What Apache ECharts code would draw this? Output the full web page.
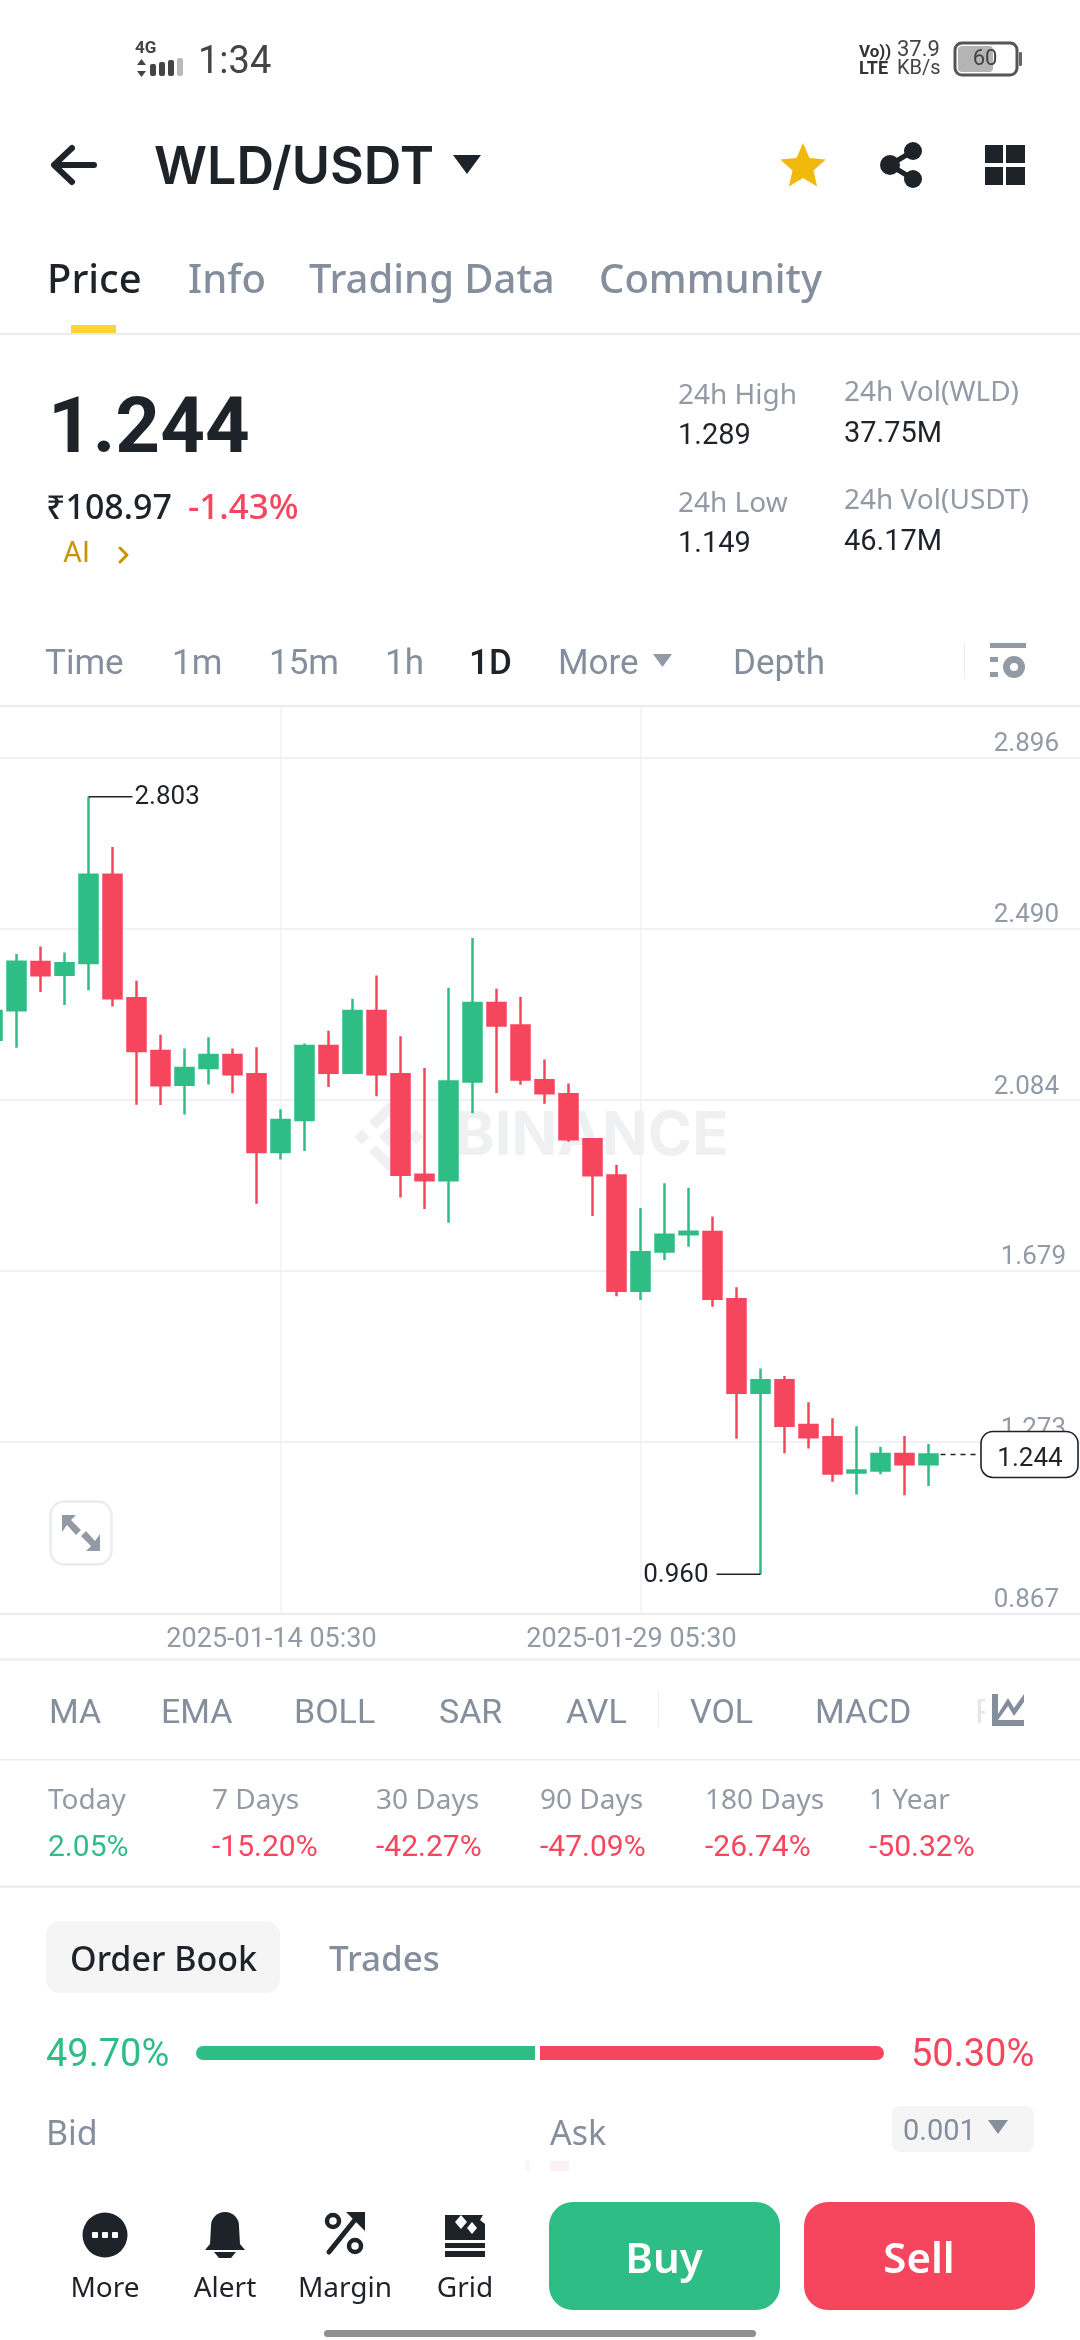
<!DOCTYPE html>
<html><head><meta charset="utf-8">
<style>html,body{margin:0;padding:0;background:#fff}#c{width:1080px;height:2340px}</style>
<script src="https://cdn.jsdelivr.net/npm/echarts@6/dist/echarts.min.js"></script>
</head><body><div id="c"></div>
<script>
const categories=["2025-01-02","2025-01-03","2025-01-04","2025-01-05","2025-01-06","2025-01-07","2025-01-08","2025-01-09","2025-01-10","2025-01-11","2025-01-12","2025-01-13","2025-01-14","2025-01-15","2025-01-16","2025-01-17","2025-01-18","2025-01-19","2025-01-20","2025-01-21","2025-01-22","2025-01-23","2025-01-24","2025-01-25","2025-01-26","2025-01-27","2025-01-28","2025-01-29","2025-01-30","2025-01-31","2025-02-01","2025-02-02","2025-02-03","2025-02-04","2025-02-05","2025-02-06","2025-02-07","2025-02-08","2025-02-09","2025-02-10","2025-02-11","2025-02-12","2025-02-13","2025-02-14","2025-02-15","2025-02-16"];
const opens =[2.227,2.297,2.411,2.381,2.409,2.618,2.325,2.200,2.120,2.160,2.191,2.145,1.961,2.037,2.212,2.149,2.295,2.145,1.907,1.894,2.128,2.314,2.261,2.131,2.098,1.991,1.905,1.632,1.725,1.766,1.771,1.612,1.390,1.420,1.314,1.285,1.201,1.206,1.245,1.221];
const closes=[2.295,2.412,2.380,2.408,2.618,2.325,2.200,2.119,2.160,2.191,2.145,1.961,2.037,2.212,2.149,2.295,2.145,1.907,1.894,2.128,2.314,2.261,2.133,2.100,1.991,1.906,1.632,1.723,1.765,1.772,1.613,1.390,1.420,1.312,1.285,1.199,1.206,1.245,1.221,1.244];
const lows  =[2.208,2.208,2.340,2.309,2.344,2.306,2.073,2.072,2.050,2.121,2.100,1.838,1.943,1.963,2.115,2.149,2.093,1.853,1.826,1.793,2.053,2.101,2.120,2.075,1.985,1.809,1.619,1.610,1.705,1.736,1.594,1.281,0.960,1.247,1.258,1.179,1.149,1.197,1.147,1.169];
const highs =[2.314,2.430,2.448,2.434,2.803,2.684,2.367,2.239,2.206,2.233,2.206,2.209,2.062,2.218,2.248,2.324,2.379,2.235,2.160,2.350,2.468,2.348,2.328,2.180,2.123,1.991,1.930,1.828,1.887,1.876,1.808,1.640,1.448,1.430,1.368,1.330,1.311,1.262,1.288,1.269];
const priceTicks=[2.896,2.490,2.084,1.679,1.273,0.867];
const dateTicks=["2025-01-14","2025-01-29"];
const dateTime=" 05:30";
const highMark=[4,2.803];
const lowMark=[32,0.960];
const lastPrice=[39,1.244];
const tabs=["Price","Info","Trading Data","Community"];
const intervals=["Time","1m","15m","1h","1D","More","Depth"];
const indicators=["MA","EMA","BOLL","SAR","AVL","VOL","MACD"];
const periods=["Today","7 Days","30 Days","90 Days","180 Days","1 Year"];
const periodChanges=["2.05%","-15.20%","-42.27%","-47.09%","-26.74%","-50.32%"];
const navLabels=["More","Alert","Margin","Grid"];
const bidShare=49.70, askShare=50.30;

const GREEN="#2EBD85",RED="#F6465D",DARK="#1E2329",GRAY="#848E9C",LINE="#EAECEF";
const F="Roboto";
const els=[];
function T(text,x,y,size,fill,weight,align,fam){els.push({type:'text',z:10,silent:true,style:{text:text,x:x,y:y+3,fill:fill||DARK,font:(weight||400)+' '+size+'px "'+(fam||F)+'"',textAlign:align||'left',textVerticalAlign:'middle',align:align||'left',verticalAlign:'middle'}});}
function R(x,y,w,h,fill,r,stroke,lw){els.push({type:'rect',z:10,silent:true,shape:{x:x,y:y,width:w,height:h,r:r||0},style:{fill:fill||'none',stroke:stroke||null,lineWidth:lw||0}});}
function P(pts,fill){els.push({type:'polygon',z:10,silent:true,shape:{points:pts},style:{fill:fill}});}
function L(pts,stroke,lw){els.push({type:'polyline',z:10,silent:true,shape:{points:pts},style:{fill:'none',stroke:stroke,lineWidth:lw,lineCap:'round',lineJoin:'round'}});}
function C(x,y,r,fill){els.push({type:'circle',z:10,silent:true,shape:{cx:x,cy:y,r:r},style:{fill:fill}});}

// status bar
T("4G",135,46,17,"#444",700);
P([[137,65],[146,65],[141.5,59]],"#444");P([[137,71],[146,71],[141.5,77]],"#444");
R(150,64,6,12,"#444",2);R(159,62,6,14,"#444",2);R(168,60,6,16,"#444",2);R(177,58,6,18,"#bbb",2);
T("1:34",198,60,38,"#444",400);
T("Vo))",859,50,17,"#333",700);T("LTE",859,66,18,"#333",700);
T("37.9",897,47,22,"#444");T("KB/s",897,66,20,"#444");
R(955,43,62,32,"#fff",7,"#555",3);R(958,46,35,26,"#b4b4b4",4);R(1019,52,3,14,"#666",1);
T("60",985,56,22,"#444",400,'center');
// header
L([[94,165],[56,165]],DARK,6);L([[72,148],[54,165],[72,182]],DARK,6);
T("WLD/USDT",154,165,52,DARK,600,'left','Inter');
P([[453,155],[481,155],[467,174]],DARK);
(function(){const p=[];for(let i=0;i<10;i++){const a=-Math.PI/2+i*Math.PI/5,r=i%2?11:24;p.push([803+r*Math.cos(a),167+r*Math.sin(a)]);}P(p,"#F0B90B");})();
L([[913,151],[890,165],[913,179]],DARK,5);C(913,151,9,DARK);C(890,165,10,DARK);C(913,179,9,DARK);
R(985,145,18,18,DARK);R(1006,145,19,18,DARK);R(985,167,18,18,DARK);R(1006,167,19,18,DARK);
// tabs
const tabX=[47,188,309,599];
tabs.forEach((t,i)=>T(t,tabX[i],279,40,i?GRAY:DARK,500,'left','Noto Sans'));
R(71,325,45,8,"#FCD535");R(0,333,1080,2,LINE);
// price block
T("1.244",48,429,78,DARK,700);
T("₹108.97",46,506,34,DARK,500,'left','Noto Sans');T("-1.43%",188,506,35,RED,500,'left','Noto Sans');
T("AI",63,552,29,"#C99400");L([[120,548],[127,555],[120,562]],"#C99400",3);
const statLbl=["24h High","24h Low","24h Vol(WLD)","24h Vol(USDT)"],statVal=["1.289","1.149","37.75M","46.17M"];
const statX=[678,678,844,844],statYL=[393,501,390,498],statYV=[434,542,432,540];
statLbl.forEach((t,i)=>{T(t,statX[i],statYL[i],28,"#929AA5",400,'left','Noto Sans');T(statVal[i],statX[i],statYV[i],29,DARK,400);});
// interval bar
const intX=[45,172,269,385,469,558,733];
intervals.forEach((t,i)=>T(t,intX[i],662,35,i===4?DARK:GRAY,i===4?500:400));
P([[653,654],[672,654],[662.5,667]],"#929AA5");
R(964,643,1,36,LINE);
R(990,643,36,5,"#929AA5");R(990,657,8,5,"#929AA5");R(990,672,8,5,"#929AA5");
C(1014,667,11,"#929AA5");C(1014,667,4,"#fff");
R(0,705,1080,2,LINE);
// watermark
const wmC="#EFF0F1";const wmX=389,wmY=1137;
function wm(p){els.push({type:'polygon',z:0,silent:true,shape:{points:p.map(q=>[wmX+q[0],wmY+q[1]])},style:{fill:wmC}});}
wm([[0,-10],[10,0],[0,10],[-10,0]]);wm([[-27,-7.5],[-19.5,0],[-27,7.5],[-34.5,0]]);wm([[27,-7.5],[34.5,0],[27,7.5],[19.5,0]]);
wm([[0,-35],[20,-15],[13,-8],[0,-21],[-13,-8],[-20,-15]]);wm([[0,35],[-20,15],[-13,8],[0,21],[13,8],[20,15]]);
els.push({type:'text',z:0,silent:true,style:{text:"BINANCE",x:455,y:1137,fill:wmC,font:'700 60px "Inter"',textAlign:'left',textVerticalAlign:'middle',align:'left',verticalAlign:'middle'}});
// expand button
R(50.5,1501.5,61,63,"#fff",14,LINE,2.5);
P([[62,1515],[76,1515],[71,1520],[81,1530],[76,1535],[67,1525],[62,1532]],"#929AA5");
P([[100,1551],[86,1551],[91,1546],[81,1536],[86,1531],[95,1541],[100,1534]],"#929AA5");
// indicators
R(0,1658,1080,3,"#EEF0F2");
const indX=[49,161,294,439,566,690,815];
indicators.forEach((t,i)=>T(t,indX[i],1711,34,GRAY));
R(658,1691,1,36,LINE);T("R",975,1711,34,"#E4E6E9");
R(985,1685,50,50,"#fff");
R(992,1694,6,32,"#848E9C");R(992,1720,32,6,"#848E9C");P([[998,1714],[1008,1698],[1014,1708],[1024,1694],[1024,1702],[1014,1716],[1008,1706],[998,1720]],"#848E9C");
R(0,1759,1080,1.5,LINE);
const perX=[48,212,376,540,705,869];
periods.forEach((t,i)=>{T(t,perX[i],1798,28,"#929AA5",400,'left','Noto Sans');T(periodChanges[i],perX[i],1845,30,periodChanges[i][0]==='-'?RED:GREEN,400);});
R(0,1885,1080,3,"#EEF0F2");
// order book
R(46,1921,234,72,"#F5F5F5",14);
T("Order Book",70,1958,34,DARK,500,'left','Noto Sans');T("Trades",329,1958,35,GRAY,500,'left','Noto Sans');
T(bidShare.toFixed(2)+"%",46,2053,38,GREEN);T(askShare.toFixed(2)+"%",911,2053,38,RED);
R(196,2046,339,14,GREEN,[7,0,0,7]);R(540,2046,344,14,RED,[0,7,7,0]);
T("Bid",46,2132,34,GRAY,400,'left','Noto Sans');T("Ask",550,2132,34,GRAY,400,'left','Noto Sans');
R(892,2106,142,46,"#F5F5F5",8);T("0.001",903,2130,29,GRAY);P([[988,2120],[1008,2120],[998,2134]],"#848E9C");
R(525,2161,5,10,"#F2FBF7");R(550,2161,19,10,"#FEEFF1");
// bottom nav
const navX=[105,225,345,465];
navLabels.forEach((t,i)=>T(t,navX[i],2286,28,DARK,400,'center','Noto Sans'));
C(105,2235,22.5,DARK);R(92,2232,6,6,"#fff",1);R(102,2232,6,6,"#fff",1);R(112,2232,6,6,"#fff",1);
// bell
C(225,2226,14,DARK);P([[211,2226],[239,2226],[240,2244],[245,2250],[205,2250],[210,2244]],DARK);
P([[214,2252],[236,2252],[231,2258],[219,2258]],DARK);
// margin
L([[329,2252],[358,2216]],DARK,5);P([[346,2212],[365,2212],[365,2231]],DARK);
els.push({type:'circle',z:10,silent:true,shape:{cx:333,cy:2221,r:6},style:{fill:'#fff',stroke:DARK,lineWidth:4.5}});
els.push({type:'circle',z:10,silent:true,shape:{cx:355,cy:2246,r:6},style:{fill:'#fff',stroke:DARK,lineWidth:4.5}});
// grid
R(445,2215,40,25,DARK);
P([[461,2215],[467,2222],[461,2229],[455,2222]],"#fff");P([[472,2222],[477,2228],[472,2234],[467,2228]],"#fff");P([[483,2215],[485,2215],[485,2224],[480,2220]],"#fff");
R(445,2243,40,5,DARK);R(445,2251,40,6,DARK);
R(549,2202,231,108,GREEN,24);R(804,2202,231,108,RED,24);
T("Buy",664,2258,42,"#fff",600,'center','Noto Sans');T("Sell",919,2258,42,"#fff",600,'center','Noto Sans');
R(324,2330,432,7,"#8F8F8F",3.5);

const candle=opens.map((o,i)=>[o,closes[i],lows[i],highs[i]]);
const chart=echarts.init(document.getElementById('c'),null,{width:1080,height:2340});
function markItem(params,api){
 const kind=api.value(2),p=api.coord([api.value(0),api.value(1)]);
 const ink={stroke:DARK,lineWidth:1.6,fill:'none'};
 const txt=(t,x,y,al)=>({type:'text',style:{text:t,x:x,y:y,fill:DARK,font:'400 26px Roboto',align:al,verticalAlign:'middle'}});
 const v=api.value(1).toFixed(3);
 if(kind===0) return {type:'group',children:[{type:'line',shape:{x1:p[0],y1:p[1],x2:p[0]+44,y2:p[1]},style:ink},txt(v,p[0]+46,p[1]+1,'left')]};
 if(kind===1) return {type:'group',children:[{type:'line',shape:{x1:p[0],y1:p[1],x2:p[0]-44,y2:p[1]},style:ink},txt(v,p[0]-52,p[1]+1,'right')]};
 return {type:'group',children:[
  {type:'line',shape:{x1:p[0]+12,y1:p[1],x2:981,y2:p[1]},style:{stroke:DARK,lineWidth:1.6,lineDash:[5,5]}},
  {type:'rect',shape:{x:981,y:p[1]-23,width:97,height:46,r:12},style:{fill:'#fff',stroke:DARK,lineWidth:1.6}},
  txt(v,1030,p[1]+5,'center')]};
}
chart.setOption({
 animation:false,
 grid:{left:-19.5,right:-4.5,top:706,bottom:726.5,containLabel:false,outerBoundsMode:'none'},
 xAxis:{type:'category',data:categories,boundaryGap:true,
  axisLine:{lineStyle:{color:LINE,width:2}},axisTick:{show:false},
  axisLabel:{interval:(i,v)=>dateTicks.includes(v),formatter:v=>'{t|'+v+dateTime+'}',margin:13,rich:{t:{color:"#929AA5",fontSize:27,fontFamily:F,padding:[0,18,0,0]}}},
  splitLine:{show:true,alignWithLabel:true,interval:(i,v)=>dateTicks.includes(v),lineStyle:{color:"#F0F1F3",width:1.5}}},
 yAxis:{type:'value',position:'right',min:0.867,max:3.018,
  axisLine:{show:false},axisTick:{show:false,customValues:priceTicks},
  axisLabel:{inside:true,margin:18.5,customValues:priceTicks,verticalAlign:'bottom',formatter:v=>{const s=v.toFixed(3);return (s[0]==='1'?'{n|':'{p|')+s+'}';},
   rich:{p:{color:"#929AA5",fontSize:26,fontFamily:F,padding:[0,7,0,0]},n:{color:"#929AA5",fontSize:26,fontFamily:F,padding:[0,0,0,0]}}},
  splitLine:{show:true,lineStyle:{color:LINE,width:1.5}}},
 graphic:{elements:els},
 series:[
  {type:'candlestick',data:candle,barWidth:18.5,z:3,itemStyle:{color:GREEN,color0:RED,borderColor:GREEN,borderColor0:RED,borderWidth:2.5}},
  {type:'custom',z:6,clip:false,silent:true,renderItem:markItem,encode:{x:0,y:1},data:[[highMark[0],highMark[1],0],[lowMark[0],lowMark[1],1],[lastPrice[0],lastPrice[1],2]]}
 ]
});
</script></body></html>
